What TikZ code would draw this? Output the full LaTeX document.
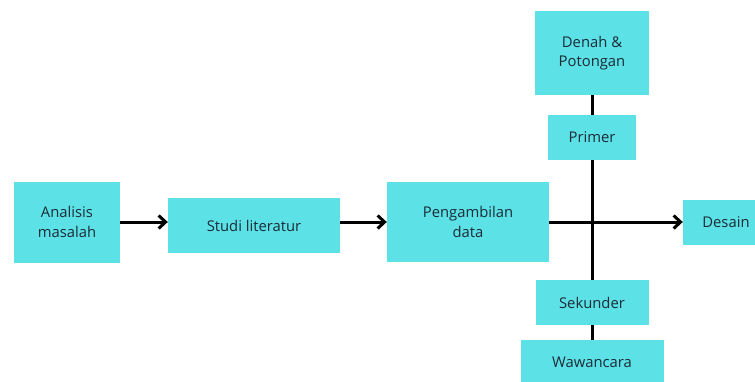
\documentclass[tikz,border=0pt]{standalone}
\usepackage{fontspec}
\setmainfont{Open Sans}
\usetikzlibrary{arrows.meta}
\definecolor{boxcyan}{HTML}{5CE1E6}
\definecolor{textdark}{HTML}{1C2B36}

\begin{document}
\begin{tikzpicture}[x=1pt,y=-1pt,
  box/.style={fill=boxcyan,text=textdark,font=\fontsize{14.8}{19.5}\selectfont,align=center,inner sep=0pt},
  link/.style={line width=3pt,black},
  flow/.style={link,-{Straight Barb[length=7pt,width=13pt]}}]
\useasboundingbox (0,0) rectangle (755,381);
\fill[white] (0,0) rectangle (755,381);
% main flow
\node[box,minimum width=106pt,minimum height=81pt] (analisis) at (67,222) {Analisis\\masalah};
\node[box,minimum width=172pt,minimum height=55pt] (studi) at (254,225.5) {Studi literatur};
\node[box,minimum width=162pt,minimum height=80pt] (ambil) at (468,222) {Pengambilan\\data};
\node[box,minimum width=86pt,minimum height=45pt] (desain) at (726,222) {Desain};
% data sources
\node[box,minimum width=114pt,minimum height=84pt] (denah) at (592,53) {Denah \&\\Potongan};
\node[box,minimum width=88pt,minimum height=45pt] (primer) at (592,137.5) {Primer};
\node[box,minimum width=113pt,minimum height=45pt] (sekunder) at (592,302.5) {Sekunder};
\node[box,minimum width=143pt,minimum height=45pt] (wawancara) at (592,362.5) {Wawancara};
\draw[flow] (analisis) -- (analisis -| studi.west);
\draw[flow] (studi.east |- ambil) -- (ambil.west);
\draw[flow] (ambil.east) -- (desain.west);
\draw[link] (denah) -- (primer);
\draw[link] (primer) -- (sekunder);
\draw[link] (sekunder) -- (wawancara);
\end{tikzpicture}
\end{document}
